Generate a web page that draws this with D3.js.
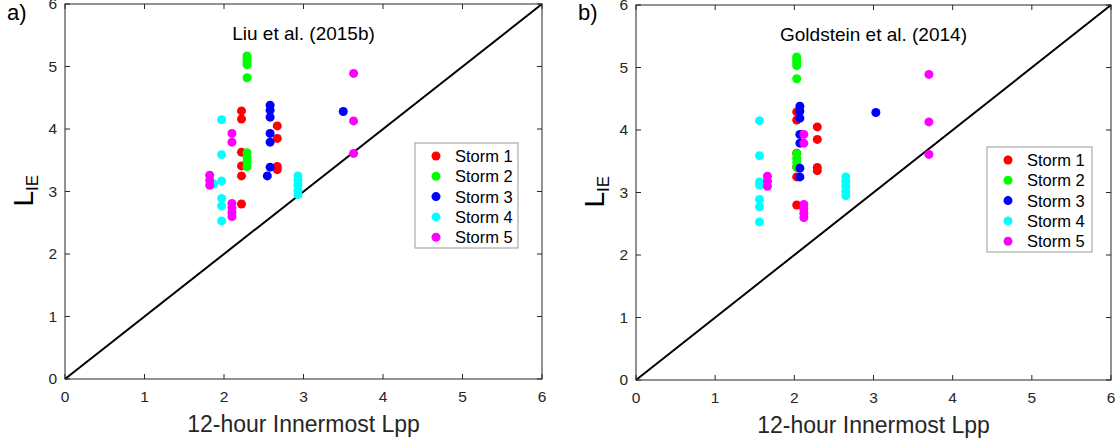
<!DOCTYPE html>
<html>
<head>
<meta charset="utf-8">
<script src="https://cdn.jsdelivr.net/npm/d3@7"></script>
<style>
  body { margin: 0; background: #fff; }
  svg { display: block; font-family: "Liberation Sans", Arial, sans-serif; }
  .tick-label { font-size: 15.5px; fill: #262626; }
  .title { font-size: 19px; fill: #000; }
  .xlabel { font-size: 23px; fill: #262626; }
  .legend-text { font-size: 16.5px; fill: #000; }
</style>
</head>
<body>
<div id="chart"></div>
<script>
(function() {

  // -----------------------------
  // 1. DATA
  // -----------------------------
  const storms = ["Storm 1", "Storm 2", "Storm 3", "Storm 4", "Storm 5"];
  const stormColors = ["#ff0000", "#00ff00", "#0000ff", "#00ffff", "#ff00ff"];
  const tickValues = [0, 1, 2, 3, 4, 5, 6];

  // L_IE per storm (same in both panels)
  const lie1 = [4.29, 4.16, 3.63, 3.41, 3.25, 2.80, 4.05, 3.85, 3.40, 3.35];
  const lie2 = [5.17, 5.13, 5.08, 5.03, 4.82, 3.62, 3.55, 3.48, 3.40];
  const lie3 = [4.38, 4.30, 4.19, 3.93, 3.79, 3.39, 3.25, 4.28];
  const lie4 = [4.15, 3.59, 3.17, 2.89, 2.77, 2.53, 3.12, 3.25, 3.18, 3.10, 3.02, 2.95];
  const lie5 = [4.89, 4.13, 3.61, 3.93, 3.79, 2.81, 2.74, 2.67, 2.60, 3.26, 3.18, 3.10];

  // 12-hour innermost Lpp, Liu et al. (2015b)
  const lppLiu1 = [2.22, 2.22, 2.22, 2.22, 2.22, 2.22, 2.67, 2.67, 2.67, 2.67];
  const lppLiu2 = [2.29, 2.29, 2.29, 2.29, 2.29, 2.29, 2.29, 2.29, 2.29];
  const lppLiu3 = [2.58, 2.58, 2.58, 2.58, 2.58, 2.58, 2.545, 3.50];
  const lppLiu4 = [1.97, 1.97, 1.97, 1.97, 1.97, 1.97, 1.87, 2.93, 2.93, 2.93, 2.93, 2.93];
  const lppLiu5 = [3.63, 3.63, 3.63, 2.10, 2.10, 2.10, 2.10, 2.10, 2.10, 1.82, 1.82, 1.82];

  // 12-hour innermost Lpp, Goldstein et al. (2014)
  const lppGold1 = [2.03, 2.03, 2.03, 2.03, 2.03, 2.03, 2.29, 2.29, 2.29, 2.29];
  const lppGold2 = [2.03, 2.03, 2.03, 2.03, 2.03, 2.03, 2.03, 2.03, 2.03];
  const lppGold3 = [2.07, 2.07, 2.07, 2.07, 2.07, 2.07, 2.07, 3.03];
  const lppGold4 = [1.56, 1.56, 1.56, 1.56, 1.56, 1.56, 1.56, 2.65, 2.65, 2.65, 2.65, 2.65];
  const lppGold5 = [3.70, 3.70, 3.70, 2.12, 2.12, 2.12, 2.12, 2.12, 2.12, 1.66, 1.66, 1.66];

  const lieAll = [lie1, lie2, lie3, lie4, lie5];
  const lppLiu = [lppLiu1, lppLiu2, lppLiu3, lppLiu4, lppLiu5];
  const lppGold = [lppGold1, lppGold2, lppGold3, lppGold4, lppGold5];

  // -----------------------------
  // 2. SVG SETUP
  // -----------------------------
  const width = 1117, height = 444;
  const svg = d3.select("#chart").append("svg")
      .attr("width", width)
      .attr("height", height);

  const panels = [
    {tag: "a)", title: "Liu et al. (2015b)", lpp: lppLiu,
     left: 65, top: 4, w: 477, h: 375, tagX: 7, ylabX: 33, legX: 350, legY: 139, legW: 103},
    {tag: "b)", title: "Goldstein et al. (2014)", lpp: lppGold,
     left: 636, top: 5, w: 475, h: 375, tagX: 578, ylabX: 604, legX: 351, legY: 142, legW: 105}
  ];

  const tickLen = 5;

  panels.forEach(p => {
    const x = d3.scaleLinear().domain([0, 6]).range([0, p.w]);
    const y = d3.scaleLinear().domain([0, 6]).range([p.h, 0]);

    const g = svg.append("g").attr("transform", `translate(${p.left},${p.top})`);

    // panel tag
    svg.append("text")
        .attr("x", p.tagX)
        .attr("y", 20)
        .attr("font-size", 22)
        .text(p.tag);

    // diagonal 1:1 line
    g.append("line")
        .attr("x1", x(0)).attr("y1", y(0))
        .attr("x2", x(6)).attr("y2", y(6))
        .attr("stroke", "#000")
        .attr("stroke-width", 2);

    // points
    storms.forEach((s, k) => {
      const pts = lieAll[k].map((v, i) => ({lie: v, lpp: p.lpp[k][i]}));
      g.selectAll(".pt" + k)
        .data(pts)
        .enter().append("circle")
          .attr("cx", d => x(d.lpp))
          .attr("cy", d => y(d.lie))
          .attr("r", 4.5)
          .attr("fill", stormColors[k]);
    });

    // box
    g.append("rect")
        .attr("x", 0).attr("y", 0)
        .attr("width", p.w).attr("height", p.h)
        .attr("fill", "none")
        .attr("stroke", "#262626")
        .attr("stroke-width", 1);

    // ticks on all sides, inward
    tickValues.forEach(t => {
      [[x(t), p.h, x(t), p.h - tickLen], [x(t), 0, x(t), tickLen],
       [0, y(t), tickLen, y(t)], [p.w, y(t), p.w - tickLen, y(t)]].forEach(c => {
        g.append("line")
          .attr("x1", c[0]).attr("y1", c[1])
          .attr("x2", c[2]).attr("y2", c[3])
          .attr("stroke", "#262626");
      });
    });

    // tick labels
    g.selectAll(".xt")
      .data(tickValues)
      .enter().append("text")
        .attr("class", "tick-label")
        .attr("x", d => x(d))
        .attr("y", p.h + 23)
        .attr("text-anchor", "middle")
        .text(d => d);

    g.selectAll(".yt")
      .data(tickValues)
      .enter().append("text")
        .attr("class", "tick-label")
        .attr("x", -8)
        .attr("y", d => y(d) + 5)
        .attr("text-anchor", "end")
        .text(d => d);

    // title
    g.append("text")
        .attr("class", "title")
        .attr("x", p.w / 2)
        .attr("y", 36)
        .attr("text-anchor", "middle")
        .text(p.title);

    // x label
    g.append("text")
        .attr("class", "xlabel")
        .attr("x", p.w / 2)
        .attr("y", p.h + 53)
        .attr("text-anchor", "middle")
        .text("12-hour Innermost Lpp");

    // y label L_IE
    const yl = svg.append("text")
        .attr("transform", `translate(${p.ylabX},${p.top + p.h / 2 + 15}) rotate(-90)`)
        .attr("fill", "#000");
    yl.append("tspan").attr("font-size", 28).text("L");
    yl.append("tspan").attr("font-size", 17).attr("dy", 5).text("IE");

    // legend
    const leg = g.append("g").attr("transform", `translate(${p.legX},${p.legY})`);
    leg.append("rect")
        .attr("width", p.legW).attr("height", 105)
        .attr("fill", "#fff")
        .attr("stroke", "#999");
    storms.forEach((s, k) => {
      leg.append("circle")
          .attr("cx", 21).attr("cy", 13 + k * 20.3)
          .attr("r", 4.5)
          .attr("fill", stormColors[k]);
      leg.append("text")
          .attr("class", "legend-text")
          .attr("x", 40).attr("y", 19 + k * 20.3)
          .text(s);
    });
  });

})();
</script>
</body>
</html>
